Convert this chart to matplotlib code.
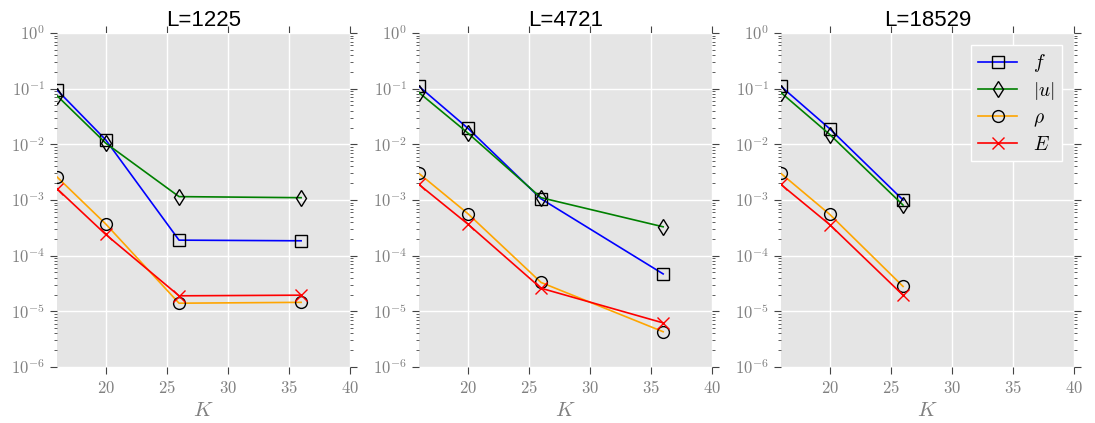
import numpy as np
import matplotlib.pyplot as plt
from matplotlib.ticker import FixedLocator, FuncFormatter, LogLocator

plt.rcParams['mathtext.fontset'] = 'cm'

K = [16, 20, 26, 36]
titles = ["L=1225", "L=4721", "L=18529"]

# errors per panel
f_err = [[0.095, 0.012, 1.9e-4, 1.85e-4],
         [0.11, 0.0195, 1.05e-3, 4.7e-5],
         [0.11, 0.019, 1.0e-3]]
u_err = [[0.075, 0.0105, 1.15e-3, 1.1e-3],
         [0.085, 0.016, 1.1e-3, 3.3e-4],
         [0.085, 0.015, 8.1e-4]]
rho_err = [[2.6e-3, 3.7e-4, 1.4e-5, 1.45e-5],
           [3.0e-3, 5.7e-4, 3.3e-5, 4.3e-6],
           [3.0e-3, 5.5e-4, 2.8e-5]]
E_err = [[1.6e-3, 2.4e-4, 1.9e-5, 1.95e-5],
         [1.9e-3, 3.7e-4, 2.6e-5, 6.2e-6],
         [1.9e-3, 3.6e-4, 1.95e-5]]

fig = plt.figure(figsize=(10.95, 4.23), dpi=100)
lefts = [0.052, 0.3826, 0.7132]
grey = '#808080'

for i in range(3):
    ax = fig.add_axes([lefts[i], 0.1324, 0.2676, 0.7896])
    ax.set_facecolor('#E5E5E5')
    for s in ax.spines.values():
        s.set_visible(False)
    n = len(f_err[i])
    k = K[:n]
    ax.plot(k, f_err[i], color='blue', marker='s', mfc='none', mec='k', ms=8.5, lw=1.2, label='$f$')
    ax.plot(k, u_err[i], color='green', marker='d', mfc='none', mec='k', ms=8.5, lw=1.2, label='$|u|$')
    ax.plot(k, rho_err[i], color='orange', marker='o', mfc='none', mec='k', ms=8.5, lw=1.2, label=r'$\rho$')
    ax.plot(k, E_err[i], color='red', marker='x', ms=8.5, lw=1.2, label='$E$')
    ax.set_yscale('log')
    ax.set_xlim(16, 40)
    ax.set_ylim(1e-6, 1)
    ax.xaxis.set_major_locator(FixedLocator([20, 25, 30, 35, 40]))
    ax.xaxis.set_major_formatter(FuncFormatter(lambda v, p: '$%d$' % v))
    ax.yaxis.set_major_locator(FixedLocator([1e-6, 1e-5, 1e-4, 1e-3, 1e-2, 1e-1, 1]))
    ax.yaxis.set_major_formatter(FuncFormatter(lambda v, p: '$10^{%d}$' % round(np.log10(v))))
    ax.yaxis.set_minor_locator(LogLocator(base=10, subs=np.arange(2, 10)))
    ax.tick_params(which='both', direction='out', top=True, right=True,
                   labelcolor=grey, color='#444444', labelsize=12)
    ax.tick_params(which='major', length=5)
    ax.tick_params(which='minor', length=2)
    ax.grid(True, which='major', color='white', lw=1)
    ax.set_axisbelow(True)
    ax.set_title(titles[i], fontsize=16, family='Liberation Sans', pad=5)
    ax.set_xlabel('$K$', fontsize=15, color=grey, labelpad=2)
    if i == 2:
        leg = ax.legend(loc='upper right', fontsize=14, numpoints=1,
                        facecolor='#E5E5E5', edgecolor='white', framealpha=1,
                        fancybox=False, handlelength=2.0, handletextpad=0.8,
                        labelspacing=0.3, borderpad=0.4, borderaxespad=0.6)

fig.savefig('out.png', dpi=100)
